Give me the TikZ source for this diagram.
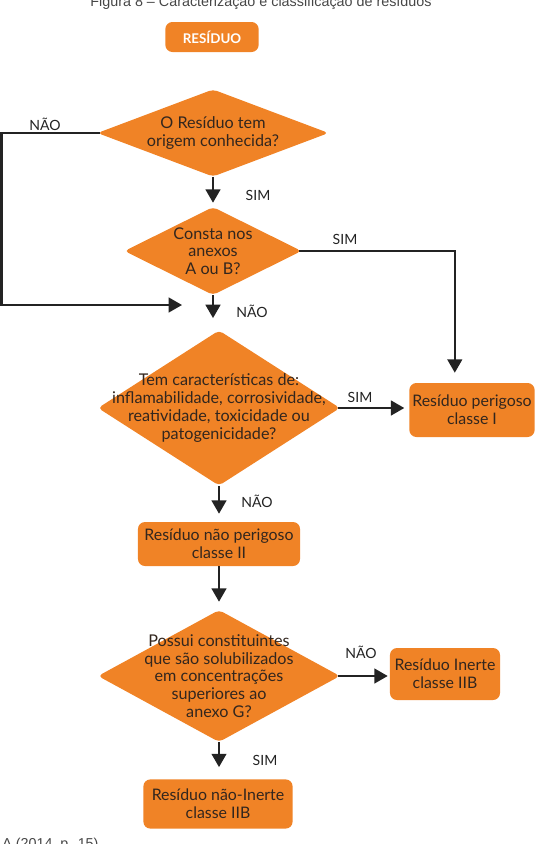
\documentclass[tikz,border=0pt]{standalone}
\usepackage{fontspec}
\setmainfont{Lato}
\newfontfamily\capfont{Liberation Sans}
\usetikzlibrary{shapes.geometric, arrows.meta, positioning}
\definecolor{laranja}{RGB}{240,131,38}
\definecolor{texto}{RGB}{50,38,30}
\definecolor{seta}{RGB}{35,35,35}
\definecolor{legenda}{RGB}{70,70,70}
\tikzset{
  decision/.style={diamond, fill=laranja, rounded corners=3pt, inner sep=0pt},
  qtext/.style={text=texto, align=center, inner sep=0pt,
    font=\fontsize{11.5}{12.6}\selectfont},
  block/.style={rectangle, rounded corners=5pt, fill=laranja, text=texto,
    align=center, inner sep=0pt, font=\fontsize{11.3}{12.6}\selectfont},
  arrow/.style={-{Triangle[length=9.5pt,width=10.5pt]}, line width=1.5pt, color=seta},
  answer/.style={font=\fontsize{10}{12}\selectfont, text=seta, inner sep=0pt},
  caption/.style={font=\capfont\fontsize{10.2}{12}\selectfont, text=legenda, inner sep=0pt},
}

\begin{document}
\begin{tikzpicture}[x=0.025cm, y=-0.025cm]
  \path[use as bounding box, clip] (0,0) rectangle (537,844);

  \node[caption, anchor=base] (titulo) at (261,6)
    {Figura 8 – Caracterização e classificação de resíduos};
  \node[caption, anchor=base west] (fonte) at (2,848) {A (2014, p. 15)};

  % caixas e decisoes
  \node[block, text=white, font=\bfseries\fontsize{9.5}{11}\selectfont,
    minimum width=2.33cm, minimum height=0.75cm] (residuo) at (212,37) {RESÍDUO};
  \node[decision, minimum width=5.78cm, minimum height=2.18cm,
    label={[qtext]center:{O Resíduo tem\\origem conhecida?}}] (origem) at (213,133) {};
  \node[decision, minimum width=4.43cm, minimum height=2.2cm,
    label={[qtext]center:{Consta nos\\anexos\\A ou B?}}] (consta) at (213,251) {};
  \node[decision, minimum width=6.05cm, minimum height=3.88cm,
    label={[qtext]center:{Tem características de:\\inflamabilidade, corrosividade,\\reatividade, toxicidade ou\\patogenicidade?}}]
    (caract) at (219,408) {};
  \node[block, minimum width=3.13cm, minimum height=1.35cm] (perigoso) at (472,410)
    {Resíduo perigoso\\classe I};
  \node[block, minimum width=4.05cm, minimum height=1.1cm] (nperigoso) at (219,544)
    {Resíduo não perigoso\\classe II};
  \node[decision, minimum width=6.05cm, minimum height=3.3cm,
    label={[qtext]center:{Possui constituintes\\que são solubilizados\\em concentrações\\superiores ao\\anexo G?}}]
    (possui) at (219,676) {};
  \node[block, minimum width=2.75cm, minimum height=1.3cm] (inerte) at (445,674)
    {Resíduo Inerte\\classe IIB};
  \node[block, minimum width=3.73cm, minimum height=1.23cm] (ninerte) at (218,804)
    {Resíduo não-Inerte\\classe IIB};

  % respostas
  \node[answer] (nao1) at (45,124) {NÃO};
  \node[answer] (sim1) at (258,195) {SIM};
  \node[answer] (sim2) at (345,239) {SIM};
  \node[answer] (nao2) at (252,311) {NÃO};
  \node[answer] (sim3) at (360,397) {SIM};
  \node[answer] (nao3) at (257,501) {NÃO};
  \node[answer] (nao4) at (361,652) {NÃO};
  \node[answer] (sim4) at (265,760) {SIM};

  % setas
  \coordinate (retorno) at (182,305);
  \coordinate (margem) at (1.5,0);
  \draw[arrow, shorten <=-2pt] (origem.west) -- (origem.west -| margem) |- (retorno);
  \draw[arrow, shorten >=0.1cm] (origem.south) -- (consta.north);
  \draw[arrow, shorten >=0.3cm] (consta.south) -- (consta.south |- caract.north);
  \draw[arrow, shorten <=-2pt, shorten >=0.25cm]
    (consta.east) -| ([xshift=-0.43cm]perigoso.north);
  \draw[arrow, shorten <=-2pt, shorten >=0.12cm]
    (caract.east) -- (caract.east -| perigoso.west);
  \draw[arrow, shorten >=0.2cm] (caract.south) -- (caract.south |- nperigoso.north);
  \draw[arrow, shorten >=0.2cm] (nperigoso.south) -- (nperigoso.south |- possui.north);
  \draw[arrow, shorten <=-2pt, shorten >=0.05cm]
    (possui.east) -- (possui.east -| inerte.west);
  \draw[arrow, shorten >=0.3cm] (possui.south) -- (possui.south |- ninerte.north);
\end{tikzpicture}
\end{document}
